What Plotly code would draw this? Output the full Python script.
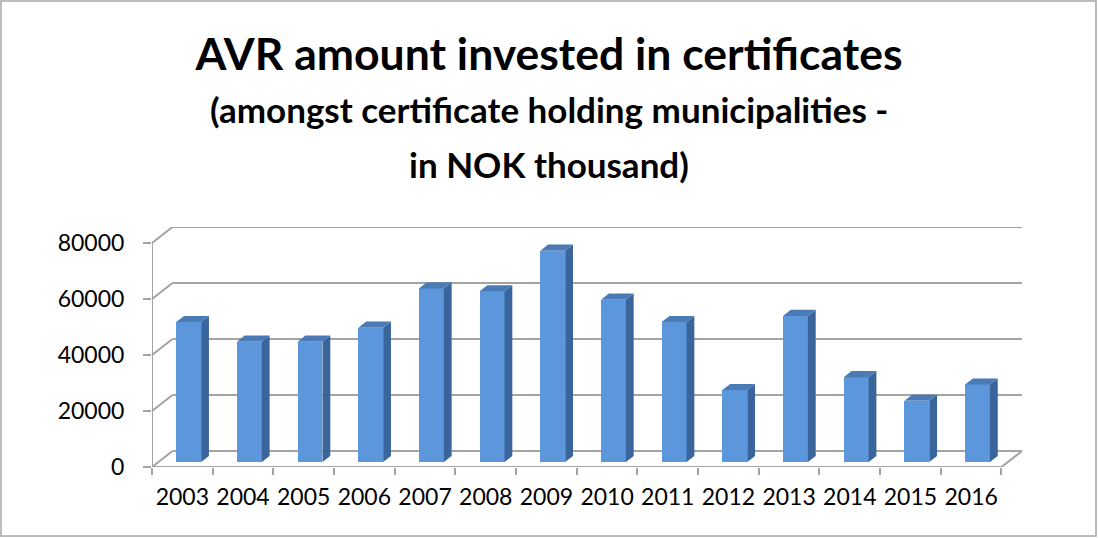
import plotly.graph_objects as go

# data (NOK thousand)
years = ["2003", "2004", "2005", "2006", "2007", "2008", "2009",
         "2010", "2011", "2012", "2013", "2014", "2015", "2016"]
amounts = [50000, 43000, 43000, 48000, 62000, 61000, 75500,
           58000, 50000, 25700, 52200, 30300, 21900, 27700]
y_ticks = [0, 20000, 40000, 60000, 80000]

# fake-3d geometry (in data units)
DX = 0.338      # depth offset along x (category units)
DY = 5714       # depth offset along y (value units)
BAR_W = 0.41
FRONT = 0.31    # where the bar's front face sits in depth
DEPTH = 0.38    # bar depth as share of the box depth

FRONT_COL = "#5b97da"
SIDE_COL = "#3a659c"
TOP_COL = "#4b7bb5"
GRID = "#a3a3a3"
FONT = "Lato"

pos = list(range(len(years)))
x_left, x_right = -0.5, len(years) - 0.5

fig = go.Figure()

# bar front faces
fig.add_trace(go.Bar(
    x=[p + FRONT * DX for p in pos],
    y=amounts,
    base=[FRONT * DY] * len(amounts),
    width=BAR_W,
    marker=dict(color=FRONT_COL, line=dict(width=0)),
    hoverinfo="skip",
))

# side and top faces
side_x, side_y, top_x, top_y = [], [], [], []
for p, v in zip(pos, amounts):
    xl = p + FRONT * DX - BAR_W / 2
    xr = p + FRONT * DX + BAR_W / 2
    b = FRONT * DY
    t = b + v
    dx, dy = DEPTH * DX, DEPTH * DY
    side_x += [xr, xr + dx, xr + dx, xr, xr, None]
    side_y += [b, b + dy, t + dy, t, b, None]
    top_x += [xl, xr, xr + dx, xl + dx, xl, None]
    top_y += [t, t, t + dy, t + dy, t, None]

fig.add_trace(go.Scatter(x=side_x, y=side_y, mode="lines", fill="toself",
                         fillcolor=SIDE_COL, line=dict(width=0), hoverinfo="skip"))
fig.add_trace(go.Scatter(x=top_x, y=top_y, mode="lines", fill="toself",
                         fillcolor=TOP_COL, line=dict(width=0), hoverinfo="skip"))

# walls: back gridlines + left wall diagonals
shapes = []
line = dict(color=GRID, width=2)
for g in y_ticks:
    shapes.append(dict(type="line", layer="below", x0=x_left + DX, x1=x_right + DX,
                       y0=g + DY, y1=g + DY, line=line))
    shapes.append(dict(type="line", layer="below", x0=x_left, x1=x_left + DX,
                       y0=g, y1=g + DY, line=line))
# front axis, floor edge, right floor diagonal
shapes.append(dict(type="line", layer="below", x0=x_left, x1=x_left,
                   y0=0, y1=y_ticks[-1], line=line))
shapes.append(dict(type="line", layer="below", x0=x_left, x1=x_right,
                   y0=0, y1=0, line=line))
shapes.append(dict(type="line", layer="below", x0=x_right, x1=x_right + DX,
                   y0=0, y1=DY, line=line))

W, H = 1098, 538
ML, MR, MT, MB = 152, 76, 227, 71
pw, ph = W - ML - MR, H - MT - MB
# outer chart border
shapes.append(dict(type="rect", xref="paper", yref="paper",
                   x0=-(ML - 1) / pw, x1=1 + (MR - 2) / pw,
                   y0=-(MB - 2) / ph, y1=1 + (MT - 1) / ph,
                   line=dict(color="#a6a6a6", width=1.5)))

fig.update_layout(
    width=W, height=H,
    margin=dict(l=ML, r=MR, t=MT, b=MB),
    paper_bgcolor="white", plot_bgcolor="white",
    showlegend=False,
    bargap=0,
    shapes=shapes,
    font=dict(family=FONT, color="black"),
    title=dict(text="<b>AVR amount invested in certificates</b>",
               x=0.5, xanchor="center", y=1 - 54 / H, yanchor="middle",
               font=dict(size=44.5, family=FONT, color="black")),
    xaxis=dict(range=[x_left, x_right + DX], tickvals=pos, ticktext=years,
               showgrid=False, zeroline=False, showline=False, ticks="",
               tickfont=dict(size=23), ticklabelstandoff=14,
               minor=dict(tick0=-0.5, dtick=1, ticks="outside", ticklen=7,
                          tickcolor=GRID, tickwidth=2, showgrid=False)),
    yaxis=dict(range=[0, y_ticks[-1] + DY], tickvals=y_ticks,
               ticktext=[str(t) for t in y_ticks],
               showgrid=False, zeroline=False, showline=False,
               ticks="outside", ticklen=8, tickcolor=GRID, tickwidth=2,
               tickfont=dict(size=23), ticklabelstandoff=14),
)

for txt, py in [("(amongst certificate holding municipalities -", 109),
                ("in NOK thousand)", 164)]:
    fig.add_annotation(text=f"<b>{txt}</b>", xref="paper", yref="paper",
                       x=0.5 - (ML - MR) / 2 / pw, y=(H - MB - py) / ph,
                       xanchor="center", yanchor="middle", showarrow=False,
                       font=dict(size=35, family=FONT, color="black"))

fig.write_html("out.html", config={"displayModeBar": False},
               post_script="document.body.style.margin='0';")
